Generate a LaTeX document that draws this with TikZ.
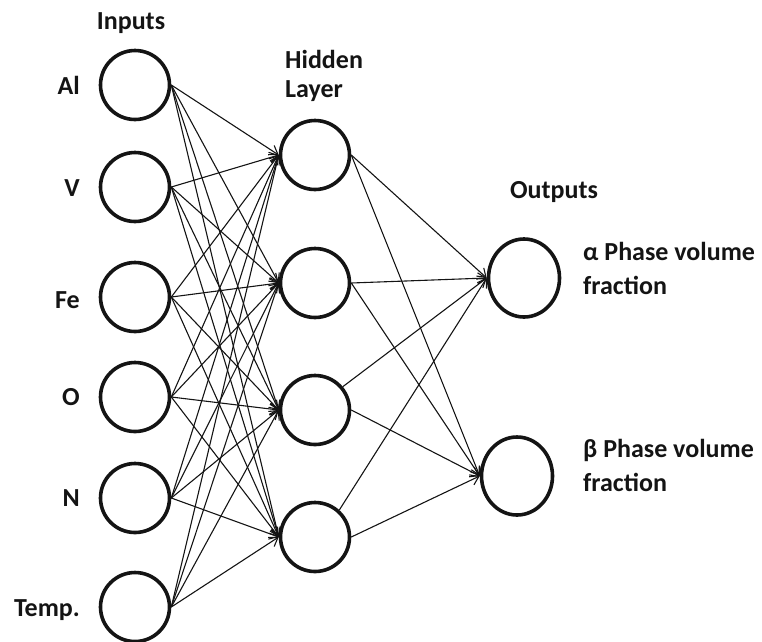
\documentclass[tikz,border=0pt]{standalone}
\usepackage{fontspec}
\setmainfont{Carlito}
\usetikzlibrary{arrows.meta,shapes.geometric}
\begin{document}
\begin{tikzpicture}[x=1pt,y=-1pt,
  neuron/.style={draw=black!92,line width=3.6pt,circle,minimum size=69pt,inner sep=0pt},
  outneuron/.style={draw=black!92,line width=3.6pt,ellipse,minimum width=71pt,minimum height=78pt,inner sep=0pt},
  lbl/.style={font=\bfseries\fontsize{26}{29}\selectfont,text=black!92,inner sep=0pt},
  conn/.style={line width=1.1pt,draw=black!92,-{Straight Barb[length=8pt,width=11pt]}}]
\useasboundingbox (0,0) rectangle (762,641);
% inputs
\node[neuron] (i1) at (135,85) {};
\node[neuron] (i2) at (135,187) {};
\node[neuron] (i3) at (135,297) {};
\node[neuron] (i4) at (135,397) {};
\node[neuron] (i5) at (135,498) {};
\node[neuron] (i6) at (135,607) {};
% hidden
\node[neuron] (h1) at (315,155) {};
\node[neuron] (h2) at (315,283) {};
\node[neuron] (h3) at (315,410) {};
\node[neuron] (h4) at (315,537) {};
% outputs
\node[outneuron] (o1) at (524,278) {};
\node[outneuron] (o2) at (517,476) {};
% labels
\node[lbl,anchor=base] (tin) at (131,29) {Inputs};
\node[lbl,anchor=base west,align=left] (thid) at (285,97) {Hidden\\Layer};
\node[lbl,anchor=base] (tout) at (554,198) {Outputs};
\node[lbl,anchor=base east] (l1) at (80,94) {Al};
\node[lbl,anchor=base east] (l2) at (80,196) {V};
\node[lbl,anchor=base east] (l3) at (80,308) {Fe};
\node[lbl,anchor=base east] (l4) at (80,405) {O};
\node[lbl,anchor=base east] (l5) at (80,506) {N};
\node[lbl,anchor=base east] (l6) at (80,616) {Temp.};
\node[lbl,anchor=base west,align=left,font=\bfseries\fontsize{26}{34}\selectfont] (ta) at (583,294) {α Phase volume\\fraction};
\node[lbl,anchor=base west,align=left,font=\bfseries\fontsize{26}{34}\selectfont] (tb) at (583,491) {β Phase volume\\fraction};
% connections input -> hidden
\foreach \i in {1,...,6}{
  \foreach \h in {1,...,4}{
    \draw[conn] (i\i.east) -- (h\h.west);
  }
}
% hidden -> outputs
\draw[conn] (h1.east) -- (o1.west);
\draw[conn] (h1.east) -- (o2.west);
\draw[conn] (h2.east) -- (o1.west);
\draw[conn] (h2.east) -- (o2.west);
\draw[conn] (h3.40) -- (o1.west);
\draw[conn] (h3.east) -- (o2.west);
\draw[conn] (h4.48) -- (o1.west);
\draw[conn] (h4.east) -- (o2.west);
\end{tikzpicture}
\end{document}
